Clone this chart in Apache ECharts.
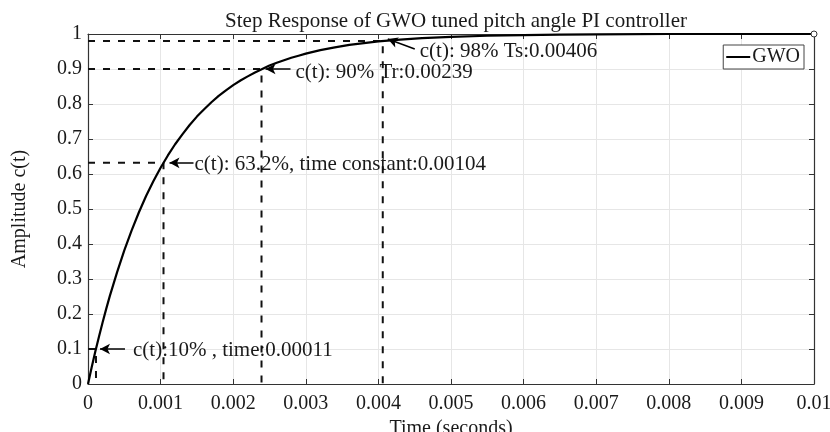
<!DOCTYPE html>
<html>
<head>
<meta charset="utf-8">
<script src="https://cdn.jsdelivr.net/npm/echarts@6/dist/echarts.min.js"></script>
<style>
  html, body { margin: 0; padding: 0; background: #fff; }
  #chart { width: 830px; height: 432px; }
</style>
</head>
<body>
<div id="chart"></div>
<script>
// step response
const tSec = [0, 0.00005, 0.0001, 0.00015, 0.0002, 0.00025, 0.0003, 0.0004, 0.0005, 0.0006, 0.0007, 0.0008, 0.0009,
  0.001, 0.0011, 0.0012, 0.0013, 0.0014, 0.0015, 0.0016, 0.0017, 0.0018, 0.0019, 0.002, 0.0021, 0.0022,
  0.0023, 0.0024, 0.0025, 0.0026, 0.0027, 0.0028, 0.0029, 0.003, 0.0032, 0.0034, 0.0036, 0.0038, 0.004,
  0.0043, 0.0046, 0.005, 0.0055, 0.006, 0.0065, 0.007, 0.008, 0.009, 0.01]
const amp = [0, 0.047, 0.092, 0.134, 0.175, 0.214, 0.251, 0.319, 0.382, 0.438, 0.490, 0.537, 0.579,
  0.618, 0.653, 0.685, 0.713, 0.740, 0.764, 0.785, 0.805, 0.823, 0.839, 0.854, 0.867, 0.879,
  0.890, 0.900, 0.910, 0.918, 0.925, 0.932, 0.938, 0.944, 0.954, 0.962, 0.969, 0.974, 0.979,
  0.984, 0.988, 0.992, 0.995, 0.997, 0.998, 0.999, 1.0, 1.0, 1.0]

// annotated points
const markT = [0.00011, 0.00104, 0.00239, 0.00406]
const markC = [0.1, 0.632, 0.9, 0.98]
const markText = [
  'c(t):10% , time:0.00011',
  'c(t): 63.2%, time constant:0.00104',
  'c(t): 90% Tr:0.00239',
  'c(t): 98% Ts:0.00406',
]

const xMin = 0, xMax = 0.01, yMin = 0, yMax = 1
const gridBox = { left: 88, right: 16, top: 34, bottom: 48, containLabel: false, outerBoundsMode: 'none' }
const plotW = 830 - gridBox.left - gridBox.right
const plotH = 432 - gridBox.top - gridBox.bottom
const pxX = (xMax - xMin) / plotW
const pxY = (yMax - yMin) / plotH

// arrow head / tail / text offsets in pixels (dx right, dy down)
const noteLayout = [
  { head: [4, 0], tail: [29, 0], text: [37, 1] },
  { head: [6, 0], tail: [30, 0], text: [31, 2] },
  { head: [4, 0], tail: [29, 0], text: [34, 3] },
  { head: [5, -2], tail: [32, 8], text: [37, 10] },
]

const font = 'Liberation Serif, Times New Roman, serif'
const fs = 20
const ink = '#1a1a1a'

const guideSeries = markT.map((t, i) => ({
  type: 'line',
  data: [[xMin, markC[i]], [t, markC[i]], [t, yMin]],
  symbol: 'none',
  silent: true,
  z: 3,
  lineStyle: { color: '#111', width: 2, type: [7, 8] },
}))

const noteSeries = markT.map((t, i) => {
  const L = noteLayout[i]
  const off = (d) => [t + d[0] * pxX, markC[i] - d[1] * pxY]
  return {
    type: 'scatter',
    data: [off(L.text)],
    symbolSize: 0,
    silent: true,
    z: 2,
    itemStyle: { color: '#000', opacity: 1 },
    label: {
      show: true,
      position: 'right',
      distance: 0,
      formatter: markText[i],
      fontFamily: font,
      fontSize: 21,
      color: ink,
      opacity: 1,
    },
    markLine: {
      silent: true,
      symbol: ['none', 'arrow'],
      symbolSize: [8, 10],
      label: { show: false },
      lineStyle: { color: '#000', width: 1.5, type: 'solid', opacity: 1 },
      data: [[{ coord: off(L.tail) }, { coord: off(L.head) }]],
      animation: false,
    },
  }
})

const axisCommon = {
  type: 'value',
  axisLine: { show: true, onZero: false, lineStyle: { color: '#333', width: 1.2 } },
  axisTick: { show: true, inside: true, length: 5, lineStyle: { color: '#333' } },
}

const option = {
  animation: false,
  title: {
    text: 'Step Response of GWO tuned pitch angle PI controller',
    left: 451,
    textAlign: 'center',
    top: 6,
    textStyle: { fontFamily: font, fontSize: 21, fontWeight: 'normal', color: ink },
  },
  legend: {
    data: ['GWO'],
    right: 26,
    top: 45,
    orient: 'vertical',
    backgroundColor: '#fff',
    borderColor: '#444',
    borderWidth: 1,
    borderRadius: 0,
    padding: [2, 4, 2, 3],
    itemGap: 0,
    itemWidth: 24,
    itemHeight: 2,
    icon: 'rect',
    textStyle: { fontFamily: font, fontSize: fs, color: ink, padding: [0, 0, 0, -3] },
  },
  grid: gridBox,
  xAxis: [
    {
      ...axisCommon,
      min: xMin, max: xMax, interval: 0.001,
      name: 'Time (seconds)',
      nameLocation: 'middle',
      nameGap: 32,
      nameTextStyle: { fontFamily: font, fontSize: fs, color: ink },
      axisLabel: {
        fontFamily: font, fontSize: fs, color: ink, margin: 10,
        formatter: (v) => String(parseFloat(v.toFixed(4))),
      },
      splitLine: { show: true, lineStyle: { color: '#e6e6e6', width: 1 } },
    },
    {
      ...axisCommon,
      position: 'top',
      min: xMin, max: xMax, interval: 0.001,
      axisLabel: { show: false },
      splitLine: { show: false },
    },
  ],
  yAxis: [
    {
      ...axisCommon,
      min: yMin, max: yMax, interval: 0.1,
      name: 'Amplitude c(t)',
      nameLocation: 'middle',
      nameGap: 58,
      nameTextStyle: { fontFamily: font, fontSize: fs, color: ink },
      axisLabel: {
        fontFamily: font, fontSize: fs, color: ink, margin: 6,
        formatter: (v) => String(parseFloat(v.toFixed(1))),
      },
      splitLine: { show: true, lineStyle: { color: '#e6e6e6', width: 1 } },
    },
    {
      ...axisCommon,
      position: 'right',
      min: yMin, max: yMax, interval: 0.1,
      axisLabel: { show: false },
      splitLine: { show: false },
    },
  ],
  series: [
    {
      name: 'GWO',
      type: 'line',
      data: tSec.map((t, i) => [t, amp[i]]),
      showSymbol: false,
      smooth: false,
      color: '#000',
      z: 4,
      lineStyle: { color: '#000', width: 2.2 },
    },
    {
      type: 'scatter',
      data: [[tSec[tSec.length - 1], amp[amp.length - 1]]],
      symbol: 'circle',
      symbolSize: 6,
      silent: true,
      z: 5,
      itemStyle: { color: '#fff', borderColor: '#333', borderWidth: 1, opacity: 1 },
    },
    ...guideSeries,
    ...noteSeries,
  ],
}

const chart = echarts.init(document.getElementById('chart'), null, { renderer: 'canvas' })
chart.setOption(option)
</script>
</body>
</html>
